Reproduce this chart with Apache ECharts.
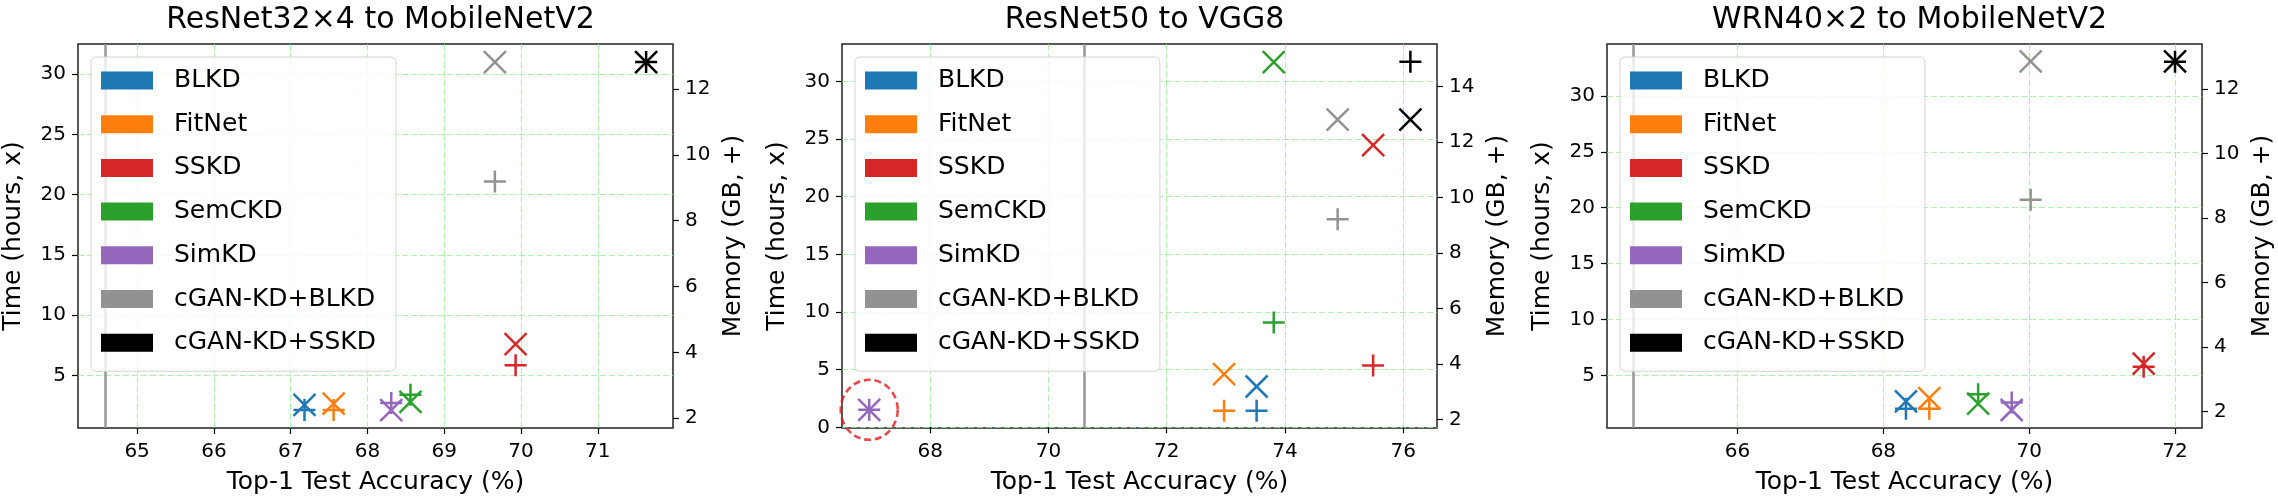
<!DOCTYPE html>
<html>
<head>
<meta charset="utf-8">
<title>Time and memory vs accuracy</title>
<script src="https://cdn.jsdelivr.net/npm/echarts@6/dist/echarts.min.js"></script>
<style>
  html, body { margin: 0; padding: 0; background: #fff; }
  #main { width: 2278px; height: 500px; }
</style>
</head>
<body>
<div id="main"></div>
<script>
// --- data ---
var methods = ['BLKD', 'FitNet', 'SSKD', 'SemCKD', 'SimKD', 'cGAN-KD+BLKD', 'cGAN-KD+SSKD'];
var titles = ['ResNet32\u00d74 to MobileNetV2', 'ResNet50 to VGG8', 'WRN40\u00d72 to MobileNetV2'];

// ResNet32x4 -> MobileNetV2
var acc1  = [67.18, 67.56, 69.93, 68.56, 68.31, 69.66, 71.63];
var time1 = [2.55, 2.66, 7.6, 2.8, 2.11, 30.99, 30.99];
var mem1  = [2.25, 2.25, 3.61, 2.71, 2.46, 9.19, 12.82];
// ResNet50 -> VGG8
var acc2  = [73.52, 72.97, 75.49, 73.81, 66.97, 74.89, 76.12];
var time2 = [3.54, 4.62, 24.47, 31.67, 1.52, 26.69, 26.69];
var mem2  = [2.32, 2.32, 3.95, 5.50, 2.36, 9.22, 14.89];
// WRN40x2 -> MobileNetV2
var acc3  = [68.31, 68.63, 71.57, 69.30, 69.76, 70.02, 72.0];
var time3 = [2.67, 2.96, 6.06, 2.48, 1.9, 33.09, 33.09];
var mem3  = [2.09, 2.09, 3.39, 2.54, 2.28, 8.57, 12.85];

// vanilla student accuracy (grey vertical line)
var baseline = [64.58, 70.61, 64.57];

// tick labels
var xTicks1 = [65, 66, 67, 68, 69, 70, 71];
var xTicks2 = [68, 70, 72, 74, 76];
var xTicks3 = [66, 68, 70, 72];
var tTicks1 = [5, 10, 15, 20, 25, 30];
var tTicks2 = [0, 5, 10, 15, 20, 25, 30];
var tTicks3 = [5, 10, 15, 20, 25, 30];
var mTicks1 = [2, 4, 6, 8, 10, 12];
var mTicks2 = [2, 4, 6, 8, 10, 12, 14];
var mTicks3 = [2, 4, 6, 8, 10, 12];

// axis extents
var xRange1 = [64.23, 71.98], tRange1 = [0.63, 32.5], mRange1 = [1.70, 13.37];
var xRange2 = [66.51, 76.57], tRange2 = [-0.06, 33.25], mRange2 = [1.70, 15.53];
var xRange3 = [64.21, 72.37], tRange3 = [0.29, 34.65], mRange3 = [1.49, 13.40];

// highlighted point in the middle panel (SimKD)
var circled = 4;

// --- styling ---
var colors = ['#1f77b4', '#ff7f0e', '#d62728', '#2ca02c', '#9467bd', '#929292', '#000000'];
var FONT = 'DejaVu Sans';
var gridLeft = [78, 842, 1607];
var gridW = 595, gridTop = 44, gridH = 386;
var crossPath = 'path://M0,0L100,100M100,0L0,100';
var plusPath = 'path://M50,0L50,100M0,50L100,50';

var panels = [
  { acc: acc1, time: time1, mem: mem1, xt: xTicks1, tt: tTicks1, mt: mTicks1, xr: xRange1, tr: tRange1, mr: mRange1 },
  { acc: acc2, time: time2, mem: mem2, xt: xTicks2, tt: tTicks2, mt: mTicks2, xr: xRange2, tr: tRange2, mr: mRange2 },
  { acc: acc3, time: time3, mem: mem3, xt: xTicks3, tt: tTicks3, mt: mTicks3, xr: xRange3, tr: tRange3, mr: mRange3 }
];

var grid = [], xAxis = [], yAxis = [], series = [], title = [], legend = [];
var gridLineStyle = { color: 'rgba(144,238,144,0.75)', width: 1, type: [6, 3] };

panels.forEach(function (p, i) {
  grid.push({
    left: gridLeft[i], top: gridTop, width: gridW, height: gridH,
    show: true, borderColor: '#222', borderWidth: 1.5, backgroundColor: 'transparent'
  });
  title.push({
    text: titles[i], left: gridLeft[i] + gridW / 2, top: 0, textAlign: 'center',
    textStyle: { fontFamily: FONT, fontSize: 30, fontWeight: 'normal', color: '#000' }
  });
  xAxis.push({
    type: 'value', gridIndex: i, min: p.xr[0], max: p.xr[1],
    name: 'Top-1 Test Accuracy (%)', nameLocation: 'middle', nameGap: 42,
    nameTextStyle: { fontFamily: FONT, fontSize: 25, color: '#000' },
    axisLine: { show: false },
    axisTick: { show: true, length: 6, customValues: p.xt, lineStyle: { color: '#000', width: 1.2 } },
    axisLabel: { customValues: p.xt, margin: 14, fontFamily: FONT, fontSize: 20, color: '#000' },
    splitLine: { show: true, lineStyle: gridLineStyle }
  });
  yAxis.push({
    type: 'value', gridIndex: i, position: 'left', min: p.tr[0], max: p.tr[1],
    name: 'Time (hours, x)', nameLocation: 'middle', nameGap: 52,
    nameTextStyle: { fontFamily: FONT, fontSize: 25, color: '#000' },
    axisLine: { show: false },
    axisTick: { show: true, length: 6, customValues: p.tt, lineStyle: { color: '#000', width: 1.2 } },
    axisLabel: { customValues: p.tt, margin: 12, fontFamily: FONT, fontSize: 20, color: '#000' },
    splitLine: { show: true, lineStyle: gridLineStyle }
  });
  yAxis.push({
    type: 'value', gridIndex: i, position: 'right', min: p.mr[0], max: p.mr[1],
    name: 'Memory (GB, +)', nameLocation: 'middle', nameGap: 48,
    nameTextStyle: { fontFamily: FONT, fontSize: 25, color: '#000' },
    axisLine: { show: false },
    axisTick: { show: true, length: 6, customValues: p.mt, lineStyle: { color: '#000', width: 1.2 } },
    axisLabel: { customValues: p.mt, margin: 12, fontFamily: FONT, fontSize: 20, color: '#000' },
    splitLine: { show: false }
  });

  // grey vertical line at the student baseline
  series.push({
    type: 'scatter', xAxisIndex: i, yAxisIndex: 2 * i, data: [], silent: true,
    markLine: {
      silent: true, symbol: 'none', animation: false, label: { show: false },
      lineStyle: { color: '#8c8c8c', width: 2.5, type: 'solid', opacity: 0.9 },
      data: [{ xAxis: baseline[i] }]
    },
    z: 1
  });

  methods.forEach(function (name, m) {
    series.push({
      name: name, type: 'scatter', xAxisIndex: i, yAxisIndex: 2 * i,
      data: [[p.acc[m], p.time[m]]],
      symbol: crossPath, symbolSize: 22,
      itemStyle: { color: 'transparent', borderColor: colors[m], borderWidth: 2.5, opacity: 1 },
      emphasis: { disabled: true }, z: 3
    });
    series.push({
      name: name, type: 'scatter', xAxisIndex: i, yAxisIndex: 2 * i + 1,
      data: [[p.acc[m], p.mem[m]]],
      symbol: plusPath, symbolSize: 22,
      itemStyle: { color: 'transparent', borderColor: colors[m], borderWidth: 2.5, opacity: 1 },
      emphasis: { disabled: true }, z: 3
    });
  });

  legend.push({
    orient: 'vertical', left: gridLeft[i] + 13, top: 57,
    itemWidth: 52, itemHeight: 18, itemGap: 18.7,
    padding: [11, 20, 16, 10],
    backgroundColor: 'rgba(255,255,255,0.8)', borderColor: '#d3d3d3', borderWidth: 1, borderRadius: 5,
    selectedMode: false,
    itemStyle: { opacity: 1, borderWidth: 0 },
    textStyle: { fontFamily: FONT, fontSize: 25, color: '#000', lineHeight: 18, padding: [0, 0, 0, 16] },
    data: methods.map(function (n, m) {
      return { name: n, icon: 'rect', itemStyle: { color: colors[m], borderWidth: 0, opacity: 1 } };
    }),
    z: 10
  });
});

// dashed red circle around SimKD in the middle panel
series.push({
  type: 'scatter', xAxisIndex: 1, yAxisIndex: 2, silent: true,
  data: [[acc2[circled], time2[circled]]],
  symbol: 'circle', symbolSize: [57, 60],
  itemStyle: { color: 'transparent', borderColor: '#e41a1c', borderWidth: 2.6, borderType: [7, 4] },
  clip: false, z: 4
});

var chart = echarts.init(document.getElementById('main'), null, { renderer: 'canvas' });
chart.setOption({
  animation: false,
  backgroundColor: '#fff',
  title: title,
  legend: legend,
  grid: grid,
  xAxis: xAxis,
  yAxis: yAxis,
  series: series
});
</script>
</body>
</html>
